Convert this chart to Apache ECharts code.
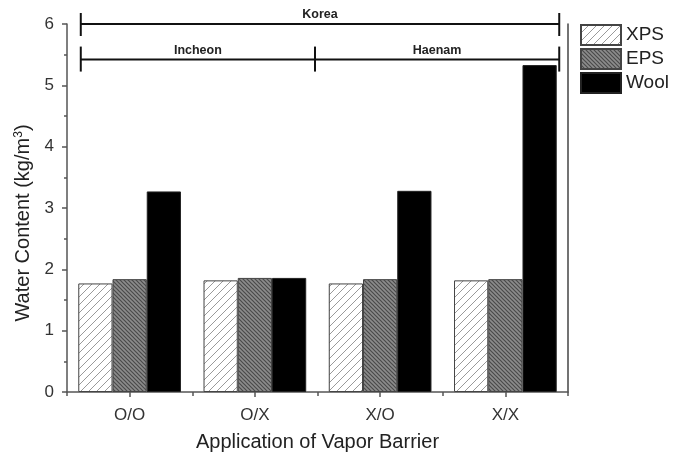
<!DOCTYPE html>
<html>
<head>
<meta charset="utf-8">
<script src="https://cdn.jsdelivr.net/npm/echarts@6/dist/echarts.min.js"></script>
<style>
  html, body { margin: 0; padding: 0; background: #fff; }
  #chart { width: 679px; height: 454px; }
</style>
</head>
<body>
<div id="chart"></div>
<script>
    // data
    var categories = ['O/O', 'O/X', 'X/O', 'X/X'];
    var xpsValues  = [1.77, 1.82, 1.77, 1.82];
    var epsValues  = [1.84, 1.86, 1.84, 1.84];
    var woolValues = [3.27, 1.86, 3.28, 5.33];
    var yTicks = [0, 1, 2, 3, 4, 5, 6];

    // region brackets above the bars (x in category units, y in axis units)
    var topBracket = { label: 'Korea', y: 6, stops: [0.11, 3.93] };
    var regionBrackets = { labels: ['Incheon', 'Haenam'], y: 5.42, stops: [0.11, 1.98, 3.93] };

    var FONT = 'Arial, "Liberation Sans", sans-serif';

    // hatch patterns
    function makeHatch(size, bg, lineColor, lineWidth, dir) {
        var c = document.createElement('canvas');
        c.width = size; c.height = size;
        var g = c.getContext('2d');
        g.fillStyle = bg;
        g.fillRect(0, 0, size, size);
        g.strokeStyle = lineColor;
        g.lineWidth = lineWidth;
        g.beginPath();
        for (var k = -1; k <= 1; k++) {
            if (dir === '/') {
                g.moveTo(k * size - 1, size + 1);
                g.lineTo(k * size + size + 1, -1);
            } else {
                g.moveTo(k * size - 1, -1);
                g.lineTo(k * size + size + 1, size + 1);
            }
        }
        g.stroke();
        return { image: c, repeat: 'repeat' };
    }
    var xpsFill = makeHatch(8, '#ffffff', '#9a9a9a', 1, '/');
    var epsFill = makeHatch(4, '#8c8c8c', '#4a4a4a', 1.2, '\\');

    var chart = echarts.init(document.getElementById('chart'), null, { renderer: 'canvas' });

    chart.setOption({
        animation: false,
        backgroundColor: '#fff',
        textStyle: { fontFamily: FONT },
        grid: { left: 67, right: 111, top: 24, bottom: 62, outerBoundsMode: 'none', containLabel: false },
        legend: {
            orient: 'vertical',
            left: 580,
            top: 24,
            padding: 0,
            itemWidth: 40,
            itemHeight: 20,
            itemGap: 2,
            icon: 'rect',
            textStyle: { fontSize: 19, color: '#222', fontFamily: FONT },
            data: ['XPS', 'EPS', 'Wool']
        },
        xAxis: [
            {
                type: 'category',
                data: categories,
                boundaryGap: true,
                name: 'Application of Vapor Barrier',
                nameLocation: 'middle',
                nameGap: 40,
                nameTextStyle: { fontSize: 20, color: '#222', fontFamily: FONT },
                axisLine: { lineStyle: { color: '#555', width: 1.5 } },
                axisTick: { show: true, alignWithLabel: true, length: 5, lineStyle: { color: '#555', width: 1.5 } },
                axisLabel: { fontSize: 17, color: '#333', margin: 15, fontFamily: FONT },
                splitLine: { show: false }
            },
            {
                type: 'value',
                position: 'bottom',
                min: 0,
                max: 4,
                interval: 1,
                axisLine: { show: false },
                axisTick: { show: true, length: 4, lineStyle: { color: '#555', width: 1.5 } },
                axisLabel: { show: false },
                splitLine: { show: false }
            }
        ],
        yAxis: [
            {
                type: 'value',
                min: yTicks[0],
                max: yTicks[yTicks.length - 1],
                interval: 1,
                name: 'Water Content (kg/m{sup|3})',
                nameLocation: 'middle',
                nameGap: 28,
                nameRotate: 90,
                nameTextStyle: {
                    fontSize: 20, color: '#222', fontFamily: FONT,
                    padding: [0, 30, 0, 0],
                    rich: { sup: { fontSize: 12, verticalAlign: 'top', color: '#222', padding: [0, 0, 9, 0] } }
                },
                axisLine: { show: true, lineStyle: { color: '#555', width: 1.5 } },
                axisTick: { show: true, length: 5, lineStyle: { color: '#555', width: 1.5 } },
                minorTick: { show: true, splitNumber: 2, length: 3, lineStyle: { color: '#555', width: 1.5 } },
                axisLabel: { fontSize: 17, color: '#333', margin: 13, fontFamily: FONT },
                splitLine: { show: false }
            },
            {
                type: 'value',
                min: 0,
                max: 6,
                position: 'right',
                axisLine: { show: true, lineStyle: { color: '#444', width: 1.5 } },
                axisTick: { show: false },
                axisLabel: { show: false },
                splitLine: { show: false }
            }
        ],
        series: [
            {
                name: 'XPS', type: 'bar', barGap: '0%', barCategoryGap: '18%',
                itemStyle: { color: xpsFill, borderColor: '#444', borderWidth: 1 },
                data: xpsValues
            },
            {
                name: 'EPS', type: 'bar', barGap: '0%', barCategoryGap: '18%',
                itemStyle: { color: epsFill, borderColor: '#444', borderWidth: 1 },
                data: epsValues
            },
            {
                name: 'Wool', type: 'bar', barGap: '0%', barCategoryGap: '18%',
                itemStyle: { color: '#000', borderColor: '#222', borderWidth: 1 },
                data: woolValues
            }
        ]
    });

    // brackets drawn through the chart's own scales
    function px(xv) { return chart.convertToPixel({ xAxisIndex: 1 }, xv); }
    function py(yv) { return chart.convertToPixel({ yAxisIndex: 0 }, yv); }

    var elements = [];
    function bracket(stops, yv, labels, capUp, capDown) {
        var y = py(yv);
        var x0 = px(stops[0]), x1 = px(stops[stops.length - 1]);
        elements.push({ type: 'line', shape: { x1: x0, y1: y, x2: x1, y2: y }, style: { stroke: '#111', lineWidth: 2 } });
        stops.forEach(function (s) {
            var x = px(s);
            elements.push({ type: 'line', shape: { x1: x, y1: y - capUp, x2: x, y2: y + capDown }, style: { stroke: '#111', lineWidth: 2 } });
        });
        for (var i = 0; i < labels.length; i++) {
            var cx = (px(stops[i]) + px(stops[i + 1])) / 2;
            elements.push({
                type: 'text', x: cx, y: y - 3,
                style: { text: labels[i], fill: '#222', font: 'bold 12.5px ' + FONT, align: 'center', verticalAlign: 'bottom' }
            });
        }
    }
    bracket(topBracket.stops, topBracket.y, [topBracket.label], 11, 12);
    bracket(regionBrackets.stops, regionBrackets.y, regionBrackets.labels, 13, 12);

    chart.setOption({ graphic: { elements: elements } });
</script>
</body>
</html>
